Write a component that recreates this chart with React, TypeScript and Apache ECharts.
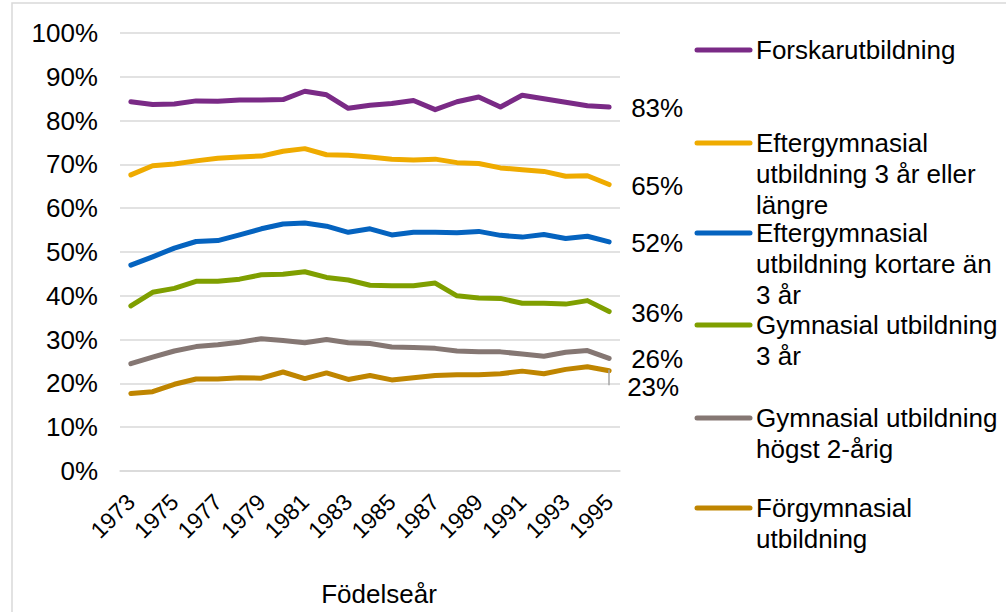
import React, { useEffect, useRef } from "react";
import * as echarts from "echarts";

const years = ["1973","1974","1975","1976","1977","1978","1979","1980","1981","1982","1983","1984","1985","1986","1987","1988","1989","1990","1991","1992","1993","1994","1995"];

const seriesNames = [
  "Forskarutbildning",
  "Eftergymnasial utbildning 3 år eller längre",
  "Eftergymnasial utbildning kortare än 3 år",
  "Gymnasial utbildning 3 år",
  "Gymnasial utbildning högst 2-årig",
  "Förgymnasial utbildning",
];

const legendLabels = [
  "Forskarutbildning",
  "Eftergymnasial\nutbildning 3 år eller\nlängre",
  "Eftergymnasial\nutbildning kortare än\n3 år",
  "Gymnasial utbildning\n3 år",
  "Gymnasial utbildning\nhögst 2-årig",
  "Förgymnasial\nutbildning",
];

const forskar = [84.3, 83.7, 83.8, 84.5, 84.4, 84.7, 84.7, 84.8, 86.7, 85.9, 82.8, 83.5, 83.9, 84.6, 82.5, 84.3, 85.4, 83.1, 85.8, 85.0, 84.2, 83.4, 83.1];
const efterLang = [67.6, 69.7, 70.1, 70.8, 71.4, 71.7, 71.9, 73.0, 73.6, 72.2, 72.1, 71.7, 71.2, 71.0, 71.2, 70.4, 70.2, 69.2, 68.8, 68.4, 67.3, 67.4, 65.4];
const efterKort = [47.0, 48.9, 50.9, 52.4, 52.6, 53.9, 55.3, 56.4, 56.6, 55.9, 54.5, 55.3, 53.9, 54.5, 54.5, 54.4, 54.7, 53.8, 53.4, 54.0, 53.1, 53.6, 52.3];
const gymn3 = [37.7, 40.8, 41.7, 43.3, 43.3, 43.8, 44.8, 44.9, 45.5, 44.2, 43.6, 42.4, 42.3, 42.3, 42.9, 40.0, 39.5, 39.4, 38.3, 38.3, 38.1, 38.9, 36.4];
const gymn2 = [24.5, 26.0, 27.4, 28.4, 28.8, 29.4, 30.2, 29.8, 29.3, 30.0, 29.3, 29.1, 28.3, 28.2, 28.0, 27.4, 27.2, 27.2, 26.7, 26.2, 27.1, 27.5, 25.7];
const forgymn = [17.7, 18.1, 19.8, 21.0, 21.0, 21.3, 21.2, 22.6, 21.1, 22.4, 20.9, 21.8, 20.8, 21.3, 21.8, 22.0, 22.0, 22.2, 22.8, 22.2, 23.2, 23.8, 22.9];

const seriesData = [forskar, efterLang, efterKort, gymn3, gymn2, forgymn];
const colors = ["#7a2a86", "#efab00", "#0563bf", "#7f9f00", "#857773", "#bf8500"];

const FONT = "'Liberation Sans', Arial, sans-serif";
const FS = 26;

export default function App() {
  const ref = useRef<HTMLDivElement>(null);
  useEffect(() => {
    if (!ref.current) return;
    const chart = echarts.init(ref.current, undefined, { renderer: "svg" });

    const legendTops = [50, 143, 233, 325, 418, 508];
    const legendGraphics: any[] = [];
    seriesNames.forEach((_, i) => {
      legendGraphics.push({
        type: "line",
        shape: { x1: 697, y1: legendTops[i], x2: 750, y2: legendTops[i] },
        style: { stroke: colors[i], lineWidth: 5, lineCap: "round" },
        silent: true,
      });
      legendGraphics.push({
        type: "text",
        x: 756,
        y: legendTops[i] - 15.5,
        style: {
          text: legendLabels[i],
          font: `${FS}px ${FONT}`,
          fill: "#000",
          lineHeight: 31,
          verticalAlign: "top",
          align: "left",
        },
        silent: true,
      });
    });

    const option: any = {
      animation: false,
      textStyle: { fontFamily: FONT },
      grid: { left: 120, right: 386, top: 33, bottom: 138, containLabel: false },
      xAxis: {
        type: "category",
        data: years,
        boundaryGap: true,
        axisLine: { show: true, lineStyle: { color: "#d9d9d9", width: 1.5 } },
        axisTick: { show: false },
        axisLabel: { interval: 1, rotate: 45, fontSize: 23, color: "#000", margin: 27, fontFamily: FONT },
        name: "Födelseår",
        nameLocation: "middle",
        nameGap: 110,
        nameTextStyle: { fontSize: FS, color: "#000", fontFamily: FONT, padding: [0, 0, 0, 18] },
      },
      yAxis: {
        type: "value",
        min: 0,
        max: 100,
        interval: 10,
        axisLine: { show: false },
        axisTick: { show: false },
        axisLabel: { formatter: "{value}%", fontSize: FS, color: "#000", margin: 22, fontFamily: FONT },
        splitLine: { lineStyle: { color: "#d9d9d9", width: 1.5 } },
      },
      series: seriesNames.map((name, i) => ({
        name,
        type: "line",
        data: seriesData[i],
        symbol: "none",
        lineStyle: { color: colors[i], width: 5, cap: "round", join: "round" },
        itemStyle: { color: colors[i] },
        endLabel: {
          show: true,
          formatter: (p: any) => Math.round(p.value) + "%",
          fontSize: FS,
          color: "#000",
          fontFamily: FONT,
          distance: 22,
          offset: i === 5 ? [-4, 16] : [0, 1],
        },
        markLine:
          i === 5
            ? {
                silent: true,
                symbol: ["none", "none"],
                label: { show: false },
                lineStyle: { color: "#a6a6a6", width: 1.5, type: "solid" },
                data: [
                  [{ coord: [22, 23.1] }, { coord: [22, 19.6] }],
                  [{ coord: [22, 19.6] }, { coord: [22.6, 19.6] }],
                ],
              }
            : undefined,
      })),
      graphic: [
        {
          type: "rect",
          shape: { x: 12, y: 3, width: 1300, height: 900 },
          style: { fill: "none", stroke: "#d9d9d9", lineWidth: 1.5 },
          silent: true,
          z: -10,
        },
        ...legendGraphics,
      ],
    };
    chart.setOption(option);
    return () => chart.dispose();
  }, []);
  return (
    <div
      ref={ref}
      style={{ position: "fixed", left: 0, top: 0, width: 1006, height: 612, background: "#fff" }}
    />
  );
}
